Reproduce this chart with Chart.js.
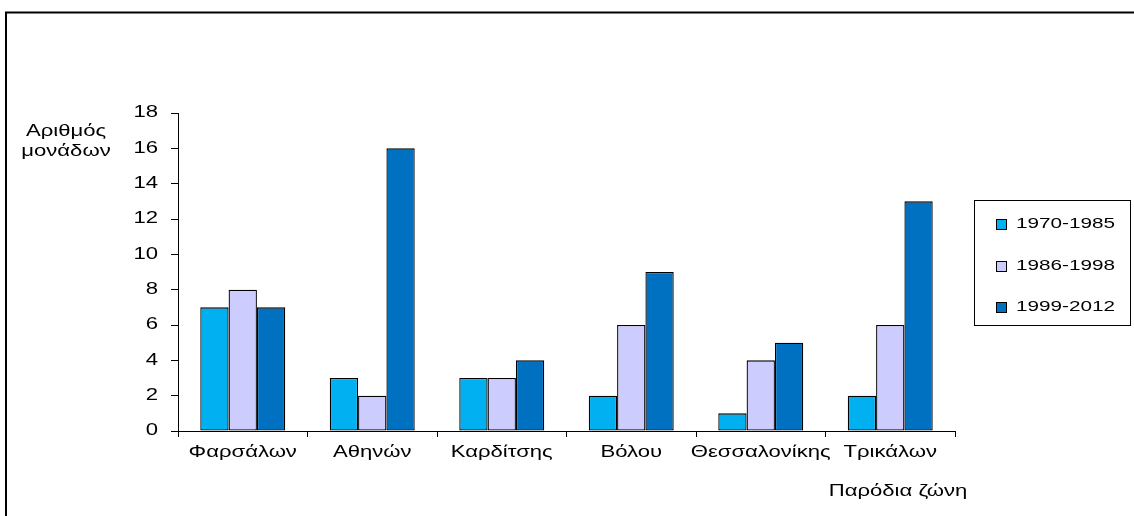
<!DOCTYPE html>
<html>
<head>
<meta charset="utf-8">
<script src="https://cdn.jsdelivr.net/npm/chart.js@4"></script>
<style>
html,body{margin:0;padding:0;background:#fff;}
#wrap{position:relative;width:1134px;height:516px;}
canvas{display:block;}
</style>
</head>
<body>
<div id="wrap"><canvas id="c" width="1134" height="516"></canvas></div>
<script>
const categories = ["Φαρσάλων","Αθηνών","Καρδίτσης","Βόλου","Θεσσαλονίκης","Τρικάλων"];
const seriesNames = ["1970-1985","1986-1998","1999-2012"];
const s1970_1985 = [7,3,3,2,1,2];
const s1986_1998 = [8,2,3,6,4,6];
const s1999_2012 = [7,16,4,9,5,13];
const yTicks = [0,2,4,6,8,10,12,14,16,18];
const yTitleLines = ["Αριθμός","μονάδων"];
const xTitle = "Παρόδια ζώνη";
const colors = ["#00B0F0","#CCCCFF","#0070C0"];

const FONT = '"Liberation Sans", Arial, sans-serif';
const FS = 16;
const SX = 1.38; // horizontal text stretch, as in the reference image

const canvas = document.getElementById('c');
const ctx = canvas.getContext('2d');
const origFill = ctx.fillText.bind(ctx);
ctx.fillText = function(t, x, y) {
  this.save();
  this.translate(x, y);
  this.scale(SX, 1);
  origFill(t, 0, 0);
  this.restore();
};

const extras = {
  id: 'extras',
  afterDraw(chart) {
    const c = chart.ctx;
    c.save();
    // outer frame
    c.strokeStyle = '#000';
    c.lineWidth = 2;
    c.beginPath();
    c.moveTo(6, 516);
    c.lineTo(6, 12.5);
    c.lineTo(1134, 12.5);
    c.stroke();
    c.fillStyle = '#000';
    c.font = FS + 'px ' + FONT;
    c.textAlign = 'center';
    c.textBaseline = 'middle';
    c.fillText(yTitleLines[0], 66, 132);
    c.fillText(yTitleLines[1], 66, 152);
    c.fillText(xTitle, 898, 492);
    // legend
    c.lineWidth = 1;
    c.strokeRect(974.5, 200.5, 156, 125);
    c.font = (FS - 1) + 'px ' + FONT;
    chart.data.datasets.forEach((ds, i) => {
      const y = 224 + i * 41.5;
      c.fillStyle = ds.backgroundColor;
      c.fillRect(996.5, Math.round(y - 5) + 0.5, 10, 10);
      c.strokeStyle = '#000';
      c.strokeRect(996.5, Math.round(y - 5) + 0.5, 10, 10);
      c.fillStyle = '#000';
      c.textAlign = 'left';
      c.fillText(ds.label, 1016, y);
    });
    c.restore();
  }
};

new Chart(ctx, {
  type: 'bar',
  data: {
    labels: categories,
    datasets: [
      {label: seriesNames[0], data: s1970_1985, backgroundColor: colors[0]},
      {label: seriesNames[1], data: s1986_1998, backgroundColor: colors[1]},
      {label: seriesNames[2], data: s1999_2012, backgroundColor: colors[2]}
    ].map(d => Object.assign(d, {borderColor: '#000', borderWidth: 1.3, borderSkipped: false, categoryPercentage: 0.656, barPercentage: 1}))
  },
  options: {
    responsive: false,
    animation: false,
    devicePixelRatio: 1,
    layout: {padding: {top: 113, right: 179, left: 0, bottom: 0}},
    plugins: {legend: {display: false}, tooltip: {enabled: false}},
    scales: {
      x: {
        offset: true,
        grid: {offset: true, drawOnChartArea: false, drawTicks: true, tickLength: 6, color: '#000'},
        border: {display: true, color: '#000', width: 1},
        ticks: {color: '#000', font: {family: FONT, size: FS}, padding: 6, autoSkip: false, maxRotation: 0, minRotation: 0},
        afterFit(s) { s.height = 85; }
      },
      y: {
        min: 0, max: 18,
        afterBuildTicks(s) { s.ticks = yTicks.map(v => ({value: v})); },
        grid: {drawOnChartArea: false, drawTicks: true, tickLength: 7, color: '#000'},
        border: {display: true, color: '#000', width: 1},
        ticks: {color: '#000', font: {family: FONT, size: FS}, padding: 13},
        afterFit(s) { s.width = 178; }
      }
    }
  },
  plugins: [extras]
});
</script>
</body>
</html>
